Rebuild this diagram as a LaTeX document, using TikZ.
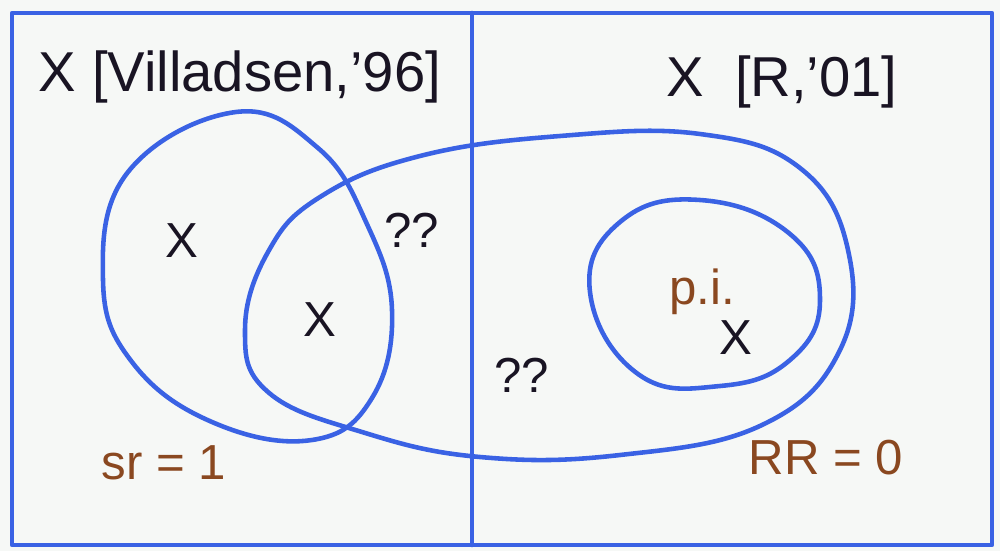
\documentclass[tikz,border=0pt]{standalone}
\usepackage{fontspec}
\setmainfont{Liberation Sans}
\usepackage{xcolor}
\usepackage{tikz}
\usetikzlibrary{positioning}

\definecolor{penblue}{RGB}{58,98,228}
\definecolor{penbrown}{RGB}{138,72,32}
\definecolor{penblack}{RGB}{25,20,35}
\definecolor{paper}{RGB}{246,248,246}

\begin{document}
\begin{tikzpicture}[x=0.02cm, y=-0.02cm, line join=round, line cap=round]
    \tikzstyle{pen} = [draw=penblue, line width=2.6pt]
    \tikzstyle{head} = [text=penblack, font=\fontsize{32}{34}\selectfont, anchor=center]
    \tikzstyle{crossmark} = [text=penblack, font=\fontsize{28}{30}\selectfont, anchor=center]
    \tikzstyle{note} = [text=penbrown, font=\fontsize{28}{30}\selectfont, anchor=center]

    \fill[paper] (0,0) rectangle (1000,551);
    \useasboundingbox (0,0) rectangle (1000,551);

    % frame and divider
    \draw[pen] (12,13) rectangle (992,545);
    \coordinate (divtop) at (472,13);
    \coordinate (divbot) at (472,545);
    \draw[pen] (divtop) -- (divbot);

    % left set
    \draw[pen] plot[smooth cycle, tension=0.7] coordinates {
        (236,112) (318,148) (366,222) (392,310) (372,398) (312,440)
        (212,422) (132,362) (103,280) (128,172)};
    % big set across both halves
    \draw[pen] plot[smooth cycle, tension=0.7] coordinates {
        (245,330) (268,252) (320,197) (420,156) (560,136) (700,134)
        (800,168) (848,250) (840,350) (762,425) (620,455) (480,457)
        (362,432) (268,392)};
    % inner set
    \draw[pen] plot[smooth cycle, tension=0.75] coordinates {
        (590,292) (620,222) (700,200) (790,234) (820,300) (790,360)
        (720,386) (638,374)};

    % labels
    \node[head] (lefttitle) at (240,77) {X [Villadsen,'96]};
    \node[head] (righttitle) at (782,82) {X\ \ [R,'01]};
    \node[crossmark] (xa) at (182,241) {X};
    \node[crossmark] (xb) at (320,320) {X};
    \node[crossmark] (qa) at (412,230) {??};
    \node[crossmark] (qb) at (522,375) {??};
    \node[note] (pi) at (702,292) {p.i.};
    \node[crossmark, below right=-4pt and -16pt of pi] (xc) {X};
    \node[note] (sr) at (164,463) {sr = 1};
    \node[note] (rr) at (826,458) {RR = 0};
\end{tikzpicture}
\end{document}
